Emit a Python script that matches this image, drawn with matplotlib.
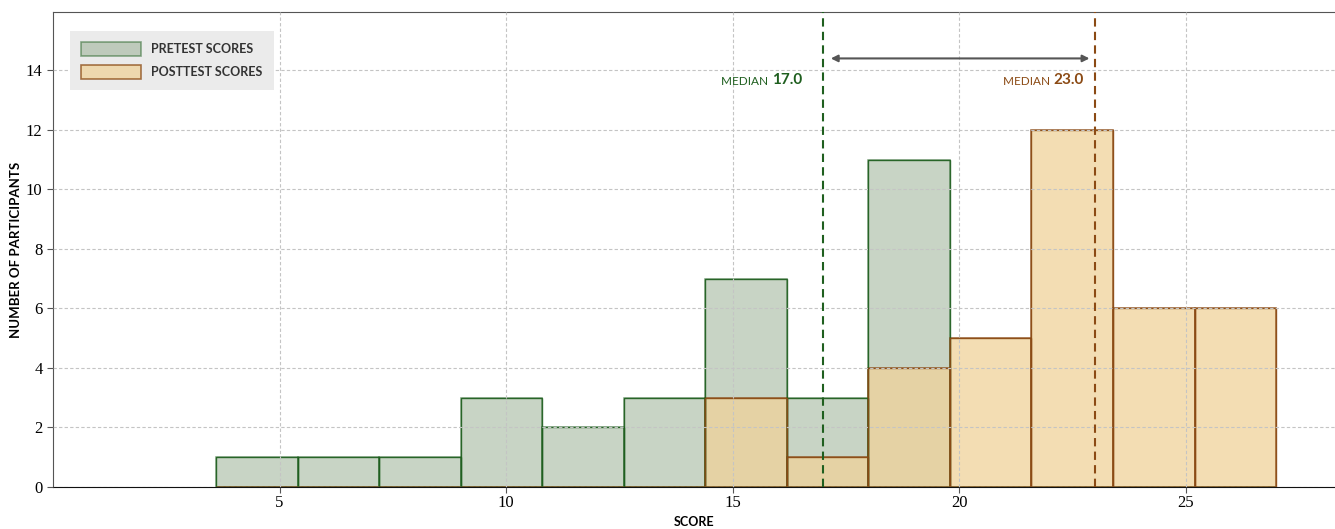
import numpy as np
import matplotlib.pyplot as plt

# histogram bins (shared) and counts
bin_edges = [3.6, 5.4, 7.2, 9.0, 10.8, 12.6, 14.4, 16.2, 18.0, 19.8, 21.6, 23.4, 25.2, 27.0]
pretest_counts = [1, 1, 1, 3, 2, 3, 7, 3, 11, 0, 0, 0, 0]
posttest_counts = [0, 0, 0, 0, 0, 0, 3, 1, 4, 5, 12, 6, 6]
pretest_median = 17.0
posttest_median = 23.0

green = '#1f5f1f'
brown = '#8b4a14'
sans = ['Lato', 'DejaVu Sans']
serif = ['Liberation Serif', 'DejaVu Serif']

fig = plt.figure(figsize=(13.35, 5.29), dpi=100)
ax = fig.add_axes([53 / 1335, 1 - 487 / 529, 1282 / 1335, 475 / 529])

centers = np.array(bin_edges[:-1]) + np.diff(bin_edges) / 2
ax.hist(centers, bins=bin_edges, weights=pretest_counts, color='#92ab8c', alpha=0.5,
        edgecolor=green, linewidth=1.2, label='PRETEST SCORES', zorder=2)
ax.hist(centers, bins=bin_edges, weights=posttest_counts, color='#f0d29a', alpha=0.75,
        edgecolor=brown, linewidth=1.2, label='POSTTEST SCORES', zorder=2)
# re-draw edges fully opaque
ax.hist(centers, bins=bin_edges, weights=pretest_counts, histtype='bar', fill=False,
        edgecolor=green, linewidth=1.0, zorder=2.1, alpha=0.9)
ax.hist(centers, bins=bin_edges, weights=posttest_counts, histtype='bar', fill=False,
        edgecolor=brown, linewidth=1.0, zorder=2.2, alpha=0.9)

ax.axvline(pretest_median, color=green, linestyle=(0, (4, 2.5)), linewidth=1.5, zorder=4)
ax.axvline(posttest_median, color=brown, linestyle=(0, (4, 2.5)), linewidth=1.5, zorder=4)

ax.annotate('', xy=(posttest_median - 0.12, 14.4), xytext=(pretest_median + 0.17, 14.4),
            arrowprops=dict(arrowstyle='<|-|>', color='#555555', lw=1.5,
                            mutation_scale=10, shrinkA=0, shrinkB=0), zorder=5)

for med, col, dx in [(pretest_median, green, 0.47), (posttest_median, brown, 0.25)]:
    num = ax.text(med - dx, 13.55, f'{med:.1f}', color=col, ha='right', va='baseline',
                  fontsize=11, fontweight='bold', family=sans, zorder=5)
    ax.annotate('MEDIAN ', xy=(0, 0), xycoords=num, ha='right', va='bottom',
                color=col, fontsize=8.5, family=sans, zorder=5)

ax.set_xlim(0, 28.3)
ax.set_ylim(0, 15.96)
ax.set_xticks([5, 10, 15, 20, 25])
ax.set_yticks(range(0, 15, 2))
ax.tick_params(labelsize=12, length=4, color='#555555')
ax.tick_params(axis='x', pad=2)
for lab in ax.get_xticklabels() + ax.get_yticklabels():
    lab.set_family(serif)

ax.grid(True, linestyle=(0, (3, 2)), color='#c4c4c4', linewidth=0.8, zorder=3)
ax.set_axisbelow(False)

ax.spines['right'].set_visible(False)
ax.spines['top'].set_color('#555555')
ax.spines['left'].set_color('#555555')
ax.spines['bottom'].set_color('#111111')

ax.set_xlabel('SCORE', fontsize=9, fontweight='bold', family=sans)
ax.xaxis.set_label_coords(0.5, -0.062)
ax.set_ylabel('NUMBER OF PARTICIPANTS', fontsize=9.5, fontweight='bold', family=sans, labelpad=3)

leg = ax.legend(loc='upper left', bbox_to_anchor=(0.013, 0.96), fontsize=9,
                frameon=True, fancybox=False, handlelength=4.8, handleheight=1.3,
                borderpad=0.9, labelspacing=0.75, borderaxespad=0.0, handletextpad=0.8)
leg.get_frame().set_facecolor('#ebebeb')
leg.get_frame().set_edgecolor('none')
leg.get_frame().set_alpha(1)
for t in leg.get_texts():
    t.set_fontweight('bold')
    t.set_family(sans)
    t.set_color('#333333')
leg.set_zorder(6)

fig.savefig('out.png', dpi=100)
